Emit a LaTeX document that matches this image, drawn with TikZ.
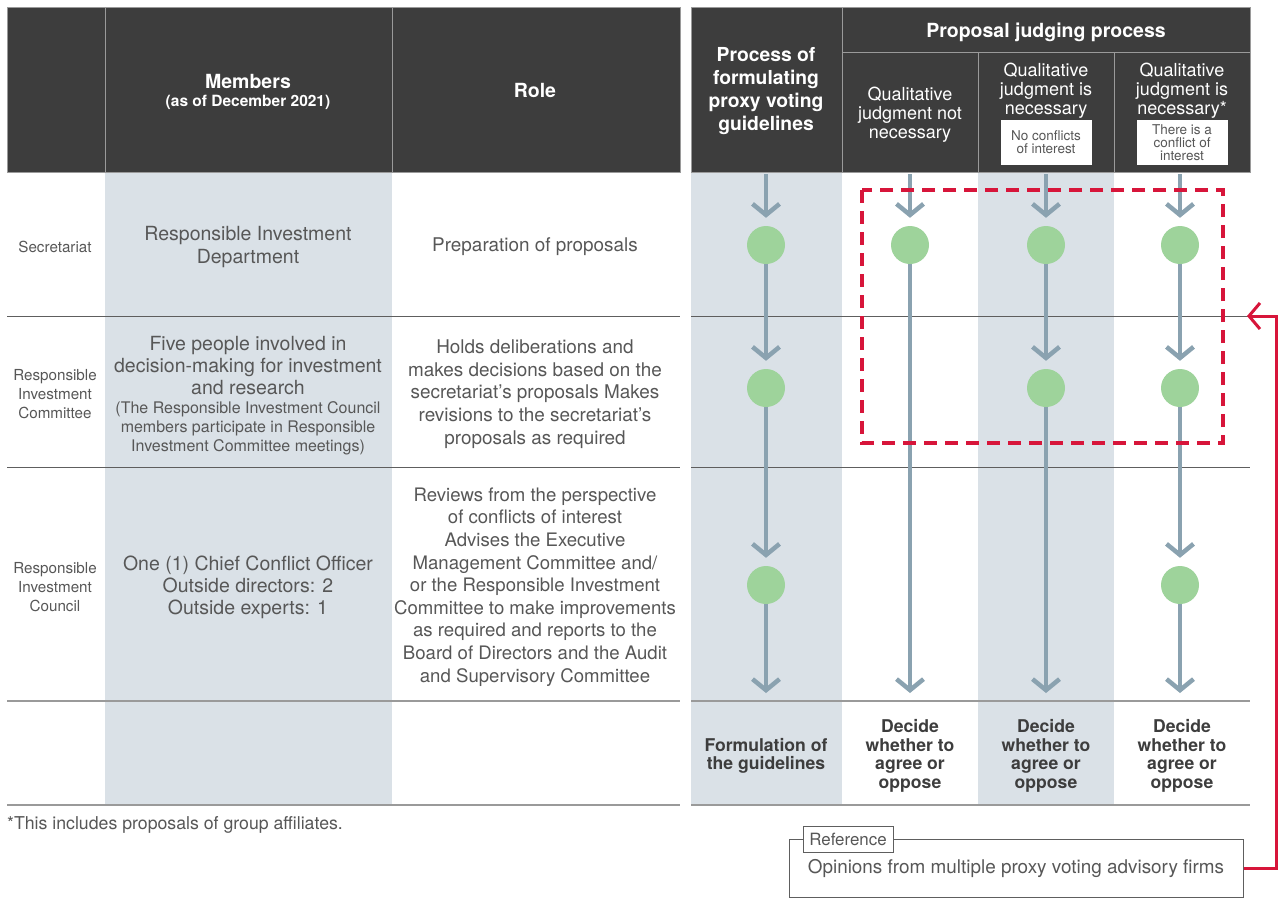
\documentclass[tikz,border=0pt]{standalone}
\usepackage{fontspec}
\setmainfont{TeX Gyre Heros}
\usetikzlibrary{arrows.meta}
\definecolor{headfill}{HTML}{3D3D3D}
\definecolor{headline}{HTML}{9A9A9A}
\definecolor{colshade}{HTML}{DAE1E7}
\definecolor{txt}{HTML}{575757}
\definecolor{restxt}{HTML}{3D3D3D}
\definecolor{flowc}{HTML}{8AA2B0}
\definecolor{dotc}{HTML}{9ED39B}
\definecolor{alert}{HTML}{D7153A}
\definecolor{rowline}{HTML}{5E5E5E}
\definecolor{footline}{HTML}{9A9A9A}
\newcommand\setfs[2]{\fontsize{#1}{#2}\selectfont}
\begin{document}
\begin{tikzpicture}[x=1pt,y=-1pt,
  every node/.style={inner sep=0pt},
  textpos/.style={yshift=-2pt},
  rowlabel/.style={textpos, text=txt, align=center, font=\setfs{15.2}{19}},
  body/.style={textpos, text=txt, align=center, font=\setfs{18.9}{22.6}},
  note/.style={textpos, text=txt, align=center, font=\setfs{16}{19}},
  headbold/.style={textpos, text=white, align=center, font=\bfseries\setfs{19.5}{23}},
  headreg/.style={textpos, text=white, align=center, font=\setfs{18}{19}},
  tag/.style={fill=white, text=txt, align=center, minimum width=91pt, minimum height=45pt, font=\setfs{13.5}{13}},
  result/.style={textpos, text=restxt, align=center, font=\bfseries\setfs{17.6}{18.6}},
  dot/.style={circle, fill=dotc, minimum size=38pt},
  flow/.style={draw=flowc, line width=4.5pt, -{Straight Barb[length=11pt,width=27pt]}, shorten >=8pt},
  flowend/.style={draw=flowc, line width=4.5pt, -{Straight Barb[length=11pt,width=27pt]}},
  sepline/.style={draw=headline, line width=0.8pt},
  rline/.style={draw=rowline, line width=1pt},
  fline/.style={draw=footline, line width=1.6pt},
]
\useasboundingbox (0,0) rectangle (1285,898);

% shaded columns
\fill[colshade] (105,172) rectangle (392,805);
\fill[colshade] (691,172) rectangle (842,805);
\fill[colshade] (978,172) rectangle (1114,805);

% header bands
\fill[headfill] (7,7) rectangle (680,172);
\fill[headfill] (691,7) rectangle (1250,172);
\draw[sepline] (7,7) rectangle (680,172);
\draw[sepline] (691,7) rectangle (1250,172);
\draw[sepline] (105,7) -- (105,172);
\draw[sepline] (392,7) -- (392,172);
\draw[sepline] (842,7) -- (842,172);
\draw[sepline] (842,52) -- (1250,52);
\draw[sepline] (978,52) -- (978,172);
\draw[sepline] (1114,52) -- (1114,172);

% row rules
\draw[rline] (7,316) -- (680,316);
\draw[rline] (691,316) -- (1250,316);
\draw[rline] (7,467) -- (680,467);
\draw[rline] (691,467) -- (1250,467);
\draw[fline] (7,701) -- (680,701);
\draw[fline] (691,701) -- (1250,701);
\draw[fline] (7,805) -- (680,805);
\draw[fline] (691,805) -- (1250,805);

% header texts
\node[headbold] (hmem) at (248,79) {Members};
\node[textpos, text=white, font=\bfseries\setfs{15.5}{16}] (hdate) at (248,100) {(as of December 2021)};
\node[headbold] (hrole) at (535,88) {Role};
\node[headbold, font=\bfseries\setfs{19.3}{23}] (hform) at (766,89) {Process of\\formulating\\proxy voting\\guidelines};
\node[headbold] (hjudge) at (1046,30) {Proposal judging process};
\node[headreg] (hq1) at (910,113) {Qualitative\\judgment not\\necessary};
\node[headreg] (hq2) at (1046,89) {Qualitative\\judgment is\\necessary};
\node[headreg] (hq3) at (1182,89) {Qualitative\\judgment is\\necessary*};
\node[tag] (tag2) at (1046,142.5) {No conflicts\\of interest};
\node[tag] (tag3) at (1182,142.5) {There is a\\conflict of\\interest};

% row: secretariat
\node[rowlabel] (lsec) at (55,245) {Secretariat};
\node[body, font=\setfs{19.5}{23}] (msec) at (248,245) {Responsible Investment\\Department};
\node[body] (rsec) at (535,245) {Preparation of proposals};

% row: committee
\node[rowlabel] (lcom) at (55,392) {Responsible\\Investment\\Committee};
\node[body, font=\setfs{19.5}{22}] (mcom) at (248,364) {Five people involved in\\decision-making for investment\\and research};
\node[note] (mcomnote) at (248,426) {(The Responsible Investment Council\\members participate in Responsible\\Investment Committee meetings)};
\node[body] (rcom) at (535,392) {Holds deliberations and\\makes decisions based on the\\secretariat’s proposals Makes\\revisions to the secretariat’s\\proposals as required};

% row: council
\node[rowlabel] (lcou) at (55,585) {Responsible\\Investment\\Council};
\node[body, font=\setfs{19.5}{22}] (mcou) at (248,585) {One (1) Chief Conflict Officer\\Outside directors: 2\\Outside experts: 1};
\node[body, font=\setfs{18.6}{22.6}] (rcou) at (535,585) {Reviews from the perspective\\of conflicts of interest\\Advises the Executive\\Management Committee and/\\or the Responsible Investment\\Committee to make improvements\\as required and reports to the\\Board of Directors and the Audit\\and Supervisory Committee};

% outcome row
\node[result] (oform) at (766,754) {Formulation of\\the guidelines};
\node[result] (o1) at (910,754) {Decide\\whether to\\agree or\\oppose};
\node[result] (o2) at (1046,754) {Decide\\whether to\\agree or\\oppose};
\node[result] (o3) at (1182,754) {Decide\\whether to\\agree or\\oppose};

% footnote
\node[textpos, text=txt, anchor=west, font=\setfs{17.7}{20}] (foot) at (7,823) {*This includes proposals of group affiliates.};

% flow columns: start and end points
\foreach \n/\x in {a/766, b/910, c/1046, d/1180} {
  \coordinate (top\n) at (\x,174);
  \coordinate (bot\n) at (\x,693);
}
% dots
\node[dot] (a1) at (766,245) {};
\node[dot] (a2) at (766,388) {};
\node[dot] (a3) at (766,585) {};
\node[dot] (b1) at (910,245) {};
\node[dot] (c1) at (1046,245) {};
\node[dot] (c2) at (1046,388) {};
\node[dot] (d1) at (1180,245) {};
\node[dot] (d2) at (1180,388) {};
\node[dot] (d3) at (1180,585) {};

% connectors
\draw[flow] (topa) -- (a1);
\draw[flow] (a1) -- (a2);
\draw[flow] (a2) -- (a3);
\draw[flowend] (a3) -- (bota);
\draw[flow] (topb) -- (b1);
\draw[flowend] (b1) -- (botb);
\draw[flow] (topc) -- (c1);
\draw[flow] (c1) -- (c2);
\draw[flowend] (c2) -- (botc);
\draw[flow] (topd) -- (d1);
\draw[flow] (d1) -- (d2);
\draw[flow] (d2) -- (d3);
\draw[flowend] (d3) -- (botd);

% dashed frame around the qualitative steps
\draw[alert, line width=3.5pt, dash pattern=on 13pt off 8pt] (862,190) rectangle (1223,443);

% reference box
\node[draw=rowline, line width=1pt, minimum width=454pt, minimum height=58pt, text=txt, font=\setfs{18.9}{22}] (refbox) at (1016,868) {Opinions from multiple proxy voting advisory firms};
\node[draw=rowline, line width=1pt, fill=white, minimum width=90pt, minimum height=26pt, text=txt, font=\setfs{16.9}{18}] (reflabel) at (848,839) {Reference};
\coordinate (refin) at (1247,316);
\draw[alert, line width=3pt, -{Straight Barb[length=11pt,width=26pt]}] (refbox.east) -- ++(33,0) |- (refin);
\end{tikzpicture}
\end{document}
